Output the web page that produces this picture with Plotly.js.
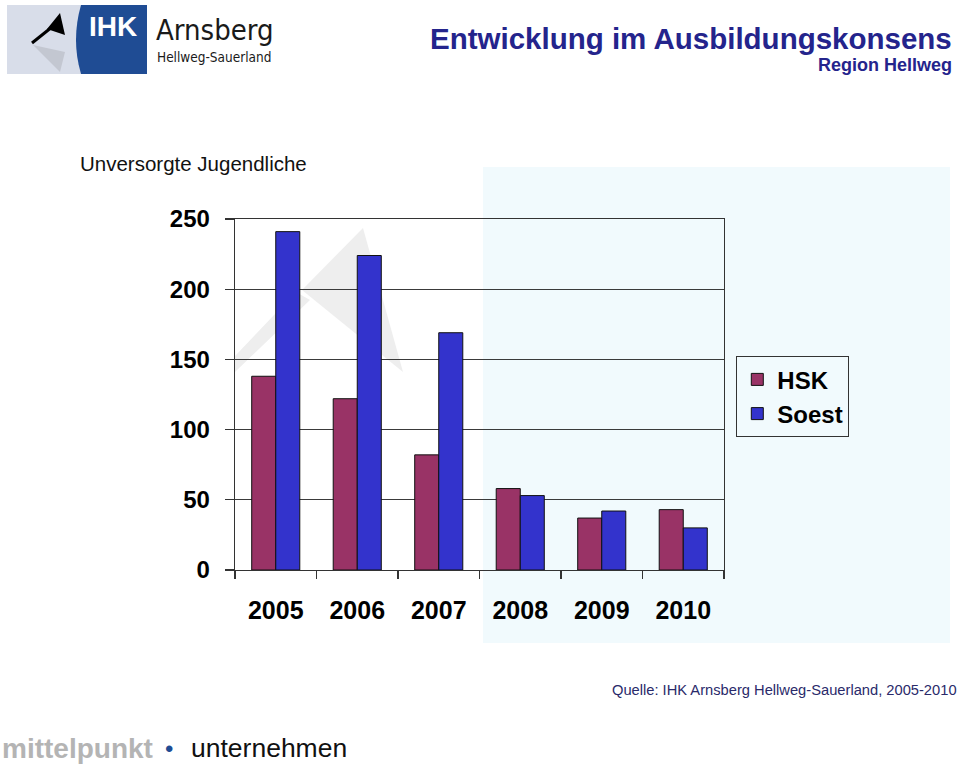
<!DOCTYPE html>
<html>
<head>
<meta charset="utf-8">
<script src="https://cdn.plot.ly/plotly-3.0.1.min.js"></script>
<style>
html,body{margin:0;padding:0;background:#fff;}
#chart{width:960px;height:764px;}
</style>
</head>
<body>
<div id="chart"></div>
<script>
// ---- data ----
const years = ["2005", "2006", "2007", "2008", "2009", "2010"];
const hsk = [138, 122, 82, 58, 37, 43];
const soest = [241, 224, 169, 53, 42, 30];
const seriesNames = ["HSK", "Soest"];
const yTicks = [0, 50, 100, 150, 200, 250];

// ---- layout helpers (pixel -> paper) ----
const L = 235, R = 724, T = 219, B = 570;
const W = 960, H = 764;
const px = x => (x - L) / (R - L);
const py = y => (B - y) / (B - T);
const pt = (x, y) => px(x).toFixed(5) + "," + py(y).toFixed(5);

const FONT = "Liberation Sans, Arial, Helvetica, sans-serif";
const NARROW = "Liberation Sans Narrow, DejaVu Sans Condensed, Arial Narrow, sans-serif";

const traces = [
  {
    type: "bar", name: seriesNames[0], x: years, y: hsk,
    marker: {color: "#993366", line: {color: "#111", width: 1}},
    legendgroup: "g1", hoverinfo: "x+y+name"
  },
  {
    type: "bar", name: seriesNames[1], x: years, y: soest,
    marker: {color: "#3333CC", line: {color: "#111", width: 1}},
    legendgroup: "g2", hoverinfo: "x+y+name"
  }
];

const shapes = [
  // light cyan watermark block
  {type: "rect", xref: "paper", yref: "paper", layer: "below",
   x0: px(483), x1: px(950), y0: py(643), y1: py(167),
   fillcolor: "#f1fafd", line: {width: 0}},
  // faint grey watermark flag in plot
  {type: "path", xref: "paper", yref: "paper", layer: "below",
   path: "M" + pt(302, 290) + " L" + pt(363, 228) + " L" + pt(403, 372) + " Z",
   fillcolor: "#eeeeee", line: {width: 0}},
  {type: "path", xref: "paper", yref: "paper", layer: "below",
   path: "M" + pt(235, 356) + " L" + pt(296, 292) + " L" + pt(310, 300) + " L" + pt(235, 372) + " Z",
   fillcolor: "#eeeeee", line: {width: 0}},
  // logo: grey block
  {type: "rect", xref: "paper", yref: "paper",
   x0: px(7), x1: px(84), y0: py(74), y1: py(5),
   fillcolor: "#d8dde9", line: {width: 0}},
  // logo: blue block with curved left edge
  {type: "path", xref: "paper", yref: "paper",
   path: "M" + pt(81, 5) + " L" + pt(147, 5) + " L" + pt(147, 74) + " L" + pt(81, 74) +
         " Q" + pt(71, 40) + " " + pt(81, 5) + " Z",
   fillcolor: "#1f4c94", line: {width: 0}},
  // shadow triangle
  {type: "path", xref: "paper", yref: "paper",
   path: "M" + pt(33, 45) + " L" + pt(65, 52) + " L" + pt(60, 72) + " Z",
   fillcolor: "#c3c7d1", line: {width: 0}},
  // flag pole
  {type: "line", xref: "paper", yref: "paper",
   x0: px(32), y0: py(43), x1: px(52), y1: py(27),
   line: {color: "#000", width: 3}},
  // flag
  {type: "path", xref: "paper", yref: "paper",
   path: "M" + pt(47, 29) + " L" + pt(60, 13) + " L" + pt(65, 35) + " Z",
   fillcolor: "#000", line: {width: 0}}
];

const annotations = [
  {text: "<b>IHK</b>", x: px(113), y: py(27), font: {family: FONT, size: 28, color: "#fff"}},
  {text: "Arnsberg", x: px(154), y: py(30), xanchor: "left", font: {family: NARROW, size: 29, color: "#1a1a1a"}},
  {text: "Hellweg-Sauerland", x: px(155), y: py(57), xanchor: "left", font: {family: NARROW, size: 13.5, color: "#1a1a1a"}},
  {text: "<b>Entwicklung im Ausbildungskonsens</b>", x: px(954), y: py(38), xanchor: "right",
   font: {family: FONT, size: 29.5, color: "#24248c"}},
  {text: "<b>Region Hellweg</b>", x: px(954), y: py(65), xanchor: "right",
   font: {family: FONT, size: 18, color: "#24248c"}},
  {text: "Unversorgte Jugendliche", x: px(78), y: py(163), xanchor: "left",
   font: {family: FONT, size: 20.5, color: "#111"}},
  {text: "Quelle: IHK Arnsberg Hellweg-Sauerland, 2005-2010", x: px(959), y: py(690), xanchor: "right",
   font: {family: FONT, size: 14.7, color: "#2a2a6a"}},
  {text: "<b><span style='color:#b4b4b4'>mittelpunkt</span></b>", x: px(0), y: py(748), xanchor: "left",
   font: {family: FONT, size: 28, color: "#b4b4b4"}},
  {text: "<span style='color:#1f4c94'>•</span>", x: px(169), y: py(748),
   font: {family: FONT, size: 24, color: "#1f4c94"}},
  {text: "unternehmen", x: px(189), y: py(748), xanchor: "left",
   font: {family: FONT, size: 26.5, color: "#111"}}
].map(a => Object.assign({xref: "paper", yref: "paper", showarrow: false, yanchor: "middle", xanchor: "center"}, a));

const layout = {
  width: W, height: H,
  margin: {l: L, r: W - R, t: T, b: H - B, pad: 0},
  paper_bgcolor: "#fff",
  plot_bgcolor: "rgba(0,0,0,0)",
  barmode: "group",
  bargap: 0.41,
  bargroupgap: 0,
  showlegend: true,
  legend: {
    x: px(736), y: py(356), xanchor: "left", yanchor: "top",
    bgcolor: "rgba(255,255,255,0)", bordercolor: "#333", borderwidth: 1.3,
    font: {family: FONT, size: 24, color: "#000", weight: "bold"},
    traceorder: "grouped", tracegroupgap: 0
  },
  xaxis: {
    type: "category",
    tickson: "boundaries",
    ticks: "outside", ticklen: 8, tickcolor: "#333", tickwidth: 1.3,
    showline: true, linecolor: "#333", linewidth: 1.3, mirror: true,
    showgrid: false, zeroline: false,
    tickfont: {family: FONT, size: 25, color: "#000", weight: "bold"},
    ticklabelstandoff: 18,
    fixedrange: true
  },
  yaxis: {
    range: [0, 250],
    tickvals: yTicks,
    ticks: "outside", ticklen: 9, tickcolor: "#333", tickwidth: 1.3,
    showline: true, linecolor: "#333", linewidth: 1.3, mirror: true,
    showgrid: true, gridcolor: "#3a3a3a", gridwidth: 1.2,
    zeroline: false,
    tickfont: {family: FONT, size: 24, color: "#000", weight: "bold"},
    ticklabelstandoff: 10,
    fixedrange: true
  },
  shapes: shapes,
  annotations: annotations
};

Plotly.newPlot("chart", traces, layout, {displayModeBar: false, staticPlot: true});
</script>
</body>
</html>
